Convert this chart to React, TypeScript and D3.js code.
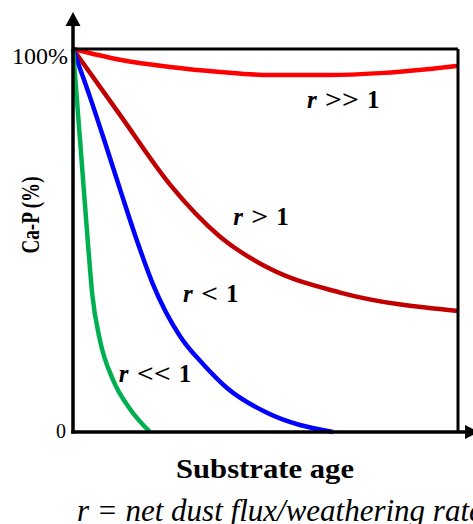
import React from "react";
import * as d3 from "d3";

const W = 473;
const H = 524;

// Series: substrate age (relative, 0-100) vs Ca-P (%)
const ageMuchGreater = [0, 12.2, 25.2, 38.2, 51.2, 66.8, 79.7, 92.7, 100];
const capMuchGreater = [100, 97.2, 95.3, 94, 93.2, 93.2, 93.7, 94.8, 95.6];

const ageGreater = [0, 12.2, 25.2, 38.2, 51.2, 69.4, 100];
const capGreater = [100, 82.8, 64.6, 51, 42.6, 36.4, 31.6];

const ageLess = [0, 4.4, 8.5, 12.5, 16.6, 20.8, 27.8, 34, 40, 50.4, 67.5];
const capLess = [100, 87.5, 75, 62.5, 50, 38.5, 25, 17.5, 11.5, 5, 0];

const ageMuchLess = [0, 2, 3.9, 5, 7, 10.4, 14.8, 20];
const capMuchLess = [100, 74, 49, 36, 24, 13.6, 6, 0];

const yTickLabels = ["0", "100%"];
const yTickValues = [0, 100];

const seriesComparators = [">>", ">", "<", "<<"];
const seriesRatio = "1";
const seriesColors = ["#ff0000", "#c00000", "#0000ff", "#00b050"];
// label anchor (age, Ca-P) for each series
const labelAges = [60.8, 41.6, 28.6, 11.9];
const labelCaps = [84.6, 54.0, 33.9, 13.1];

export default function App() {
  const x = d3.scaleLinear().domain([0, 100]).range([73, 458]);
  const y = d3.scaleLinear().domain([0, 100]).range([432, 49]);

  const series = [
    [ageMuchGreater, capMuchGreater],
    [ageGreater, capGreater],
    [ageLess, capLess],
    [ageMuchLess, capMuchLess],
  ];

  const line = d3
    .line<[number, number]>()
    .x((d) => x(d[0]))
    .y((d) => y(d[1]))
    .curve(d3.curveMonotoneX);

  const x0 = x(0);
  const x1 = x(100);
  const y0 = y(0);
  const y1 = y(100);

  const serif = "Liberation Serif";

  return (
    <svg
      width={W}
      height={H}
      style={{ position: "absolute", left: 0, top: 0, background: "#fff" }}
    >
      <rect x={0} y={0} width={W} height={H} fill="#fff" />
      {/* curves */}
      {series.map(([ages, caps], i) => (
        <path
          key={i}
          d={line(ages.map((a, j) => [a, caps[j]] as [number, number])) || ""}
          fill="none"
          stroke={seriesColors[i]}
          strokeWidth={4.5}
        />
      ))}
      {/* box top and right */}
      <line x1={x0} y1={y1} x2={x1} y2={y1} stroke="#000" strokeWidth={3} />
      <line x1={x1} y1={y1} x2={x1} y2={y0} stroke="#000" strokeWidth={3} />
      {/* y axis */}
      <line x1={x0} y1={y0 + 1.5} x2={x0} y2={24} stroke="#000" strokeWidth={3.5} />
      <path d={`M${x0 - 7.5},${26} L${x0},${12} L${x0 + 7.5},${26} Z`} fill="#000" />
      {/* x axis */}
      <line x1={x0 - 1.75} y1={y0} x2={466} y2={y0} stroke="#000" strokeWidth={3.5} />
      <path d={`M${465},${y0 - 7} L${479},${y0} L${465},${y0 + 7} Z`} fill="#000" />

      {/* y tick labels */}
      <text
        x={68}
        y={y(yTickValues[1]) + 15}
        textAnchor="end"
        fontFamily={serif}
        fontSize={24}
        fill="#000"
      >
        {yTickLabels[1]}
      </text>
      <text
        x={66}
        y={y(yTickValues[0]) + 6}
        textAnchor="end"
        fontFamily={serif}
        fontSize={20}
        fill="#000"
      >
        {yTickLabels[0]}
      </text>

      {/* series labels */}
      {seriesComparators.map((cmp, i) => {
        const lx = x(labelAges[i]);
        const ly = y(labelCaps[i]);
        const cw = cmp.length * 17;
        return (
          <g key={i} fontFamily={serif} fontSize={25} fontWeight="bold" fill="#000">
            <text x={lx} y={ly} fontStyle="italic">r</text>
            <text x={lx + 18} y={ly} textLength={cw} lengthAdjust="spacingAndGlyphs">
              {cmp}
            </text>
            <text x={lx + 18 + cw + 8} y={ly}>{seriesRatio}</text>
          </g>
        );
      })}

      {/* y axis title */}
      <text
        transform="translate(39,215) rotate(-90)"
        textAnchor="middle"
        fontFamily={serif}
        fontSize={25}
        fontWeight="bold"
        fill="#000"
        textLength={77}
        lengthAdjust="spacingAndGlyphs"
      >
        Ca-P (%)
      </text>

      {/* x axis title */}
      <text
        x={176}
        y={478}
        fontFamily={serif}
        fontSize={28}
        fontWeight="bold"
        fill="#000"
        textLength={178}
        lengthAdjust="spacingAndGlyphs"
      >
        Substrate age
      </text>
      <text
        x={77}
        y={521}
        fontFamily={serif}
        fontSize={31}
        fontStyle="italic"
        fill="#000"
      >
        r = net dust flux/weathering rate
      </text>
    </svg>
  );
}
